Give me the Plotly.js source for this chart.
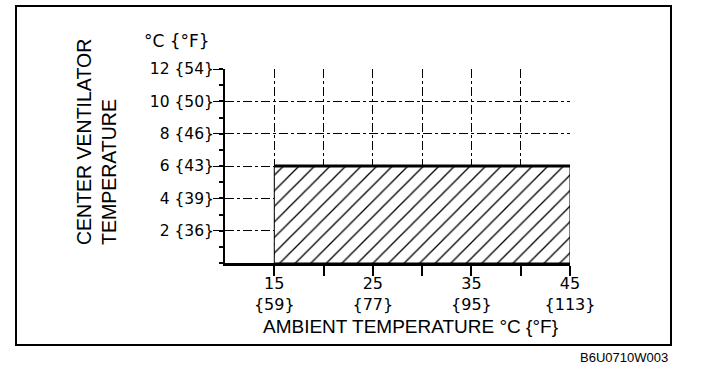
<!DOCTYPE html>
<html>
<head>
<meta charset="utf-8">
<script src="https://cdn.plot.ly/plotly-3.0.1.min.js"></script>
<style>html,body{margin:0;padding:0;background:#fff;}#chart{width:704px;height:374px;}</style>
</head>
<body>
<div id="chart"></div>
<script>
// Data
const xTickVals = [15, 20, 25, 30, 35, 40, 45];
const xTickText = ["15<br>{59}", "", "25<br>{77}", "", "35<br>{95}", "", "45<br>{113}"];
const yTickVals = [2, 4, 6, 8, 10, 12];
const yTickText = ["2 {36}", "4 {39}", "6 {43}", "8 {46}", "10 {50}", "12 {54}"];
const zoneStart = [15];
const zoneEnd = [45];
const zoneTemp = [6];
const limitX = [15, 45];
const limitY = [6, 6];

const FONT = "DejaVu Sans, Liberation Sans, Arial, sans-serif";
const FONT2 = "Liberation Sans, Arial, sans-serif";
const L = 225, R = 570, T = 69, B = 263;
const px2x = p => (p - L) / (R - L);
const px2y = p => (B - p) / (B - T);

const traces = [
  {
    type: "bar",
    x: zoneStart.map((s, i) => (s + zoneEnd[i]) / 2),
    width: zoneStart.map((s, i) => zoneEnd[i] - s),
    y: zoneTemp,
    marker: {
      color: "white",
      line: {color: "black", width: 1},
      pattern: {shape: "/", fgcolor: "black", bgcolor: "white", size: 11, solidity: 0.12}
    },
    hoverinfo: "skip",
    showlegend: false
  },
  {
    type: "scatter",
    mode: "lines",
    x: limitX,
    y: limitY,
    line: {color: "black", width: 3},
    hoverinfo: "skip",
    showlegend: false
  }
];

const layout = {
  width: 704,
  height: 374,
  margin: {l: L, r: 704 - R, t: T, b: 374 - B, pad: 0},
  paper_bgcolor: "white",
  plot_bgcolor: "white",
  font: {family: FONT, color: "black", size: 16},
  bargap: 0,
  xaxis: {
    range: [10, 45],
    tickvals: xTickVals,
    ticktext: xTickText,
    ticks: "outside",
    ticklen: 10,
    tickwidth: 2,
    tickcolor: "black",
    showline: true,
    linecolor: "black",
    linewidth: 3,
    showgrid: true,
    gridcolor: "black",
    gridwidth: 1,
    griddash: "dashdot",
    zeroline: false,
    tickfont: {size: 16, family: FONT},
    ticklabelstandoff: -6,
    fixedrange: true
  },
  yaxis: {
    range: [0, 12],
    tickvals: yTickVals,
    ticktext: yTickText,
    ticks: "outside",
    ticklen: 10,
    tickwidth: 1,
    tickcolor: "black",
    minor: {dtick: 1, ticks: "outside", ticklen: 4, tickcolor: "black", tickwidth: 2, showgrid: false},
    showline: true,
    linecolor: "black",
    linewidth: 2,
    showgrid: true,
    gridcolor: "black",
    gridwidth: 1,
    griddash: "dashdot",
    zeroline: false,
    tickfont: {size: 15.5, family: FONT},
    ticklabelstandoff: -4,
    fixedrange: true
  },
  shapes: [
    {type: "rect", xref: "paper", yref: "paper",
     x0: px2x(16), x1: px2x(671), y0: px2y(345), y1: px2y(6),
     line: {color: "black", width: 2}, fillcolor: "rgba(0,0,0,0)", layer: "below"}
  ],
  annotations: [
    {xref: "paper", yref: "paper", x: px2x(96), y: px2y(247), xanchor: "center", yanchor: "bottom",
     text: "CENTER VENTILATOR<br>TEMPERATURE", textangle: -90, align: "left", showarrow: false,
     font: {size: 19.5, family: FONT2}},
    {xref: "paper", yref: "paper", x: px2x(177), y: px2y(41), xanchor: "center", yanchor: "middle",
     text: "°C {°F}", showarrow: false, font: {size: 17, family: FONT}},
    {xref: "paper", yref: "paper", x: px2x(410), y: px2y(326), xanchor: "center", yanchor: "middle",
     text: "AMBIENT TEMPERATURE °C {°F}", showarrow: false, font: {size: 19, family: FONT2}},
    {xref: "paper", yref: "paper", x: px2x(670), y: px2y(357), xanchor: "right", yanchor: "middle",
     text: "B6U0710W003", showarrow: false, font: {size: 13, family: FONT2}}
  ]
};

Plotly.newPlot("chart", traces, layout, {displayModeBar: false, staticPlot: true});
</script>
</body>
</html>
